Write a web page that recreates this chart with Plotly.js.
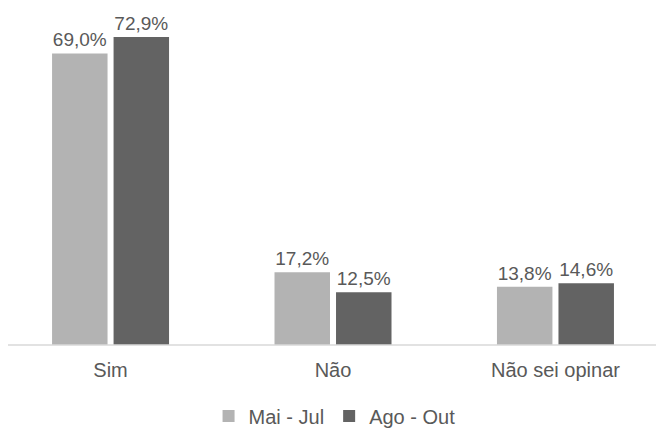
<!DOCTYPE html>
<html>
<head>
<meta charset="utf-8">
<script src="https://cdn.plot.ly/plotly-3.0.1.min.js"></script>
<style>html,body{margin:0;padding:0;background:#fff}#chart{width:656px;height:428px}</style>
</head>
<body>
<div id="chart"></div>
<script>
const categories = ["Sim", "Não", "Não sei opinar"];
const seriesNames = ["Mai - Jul", "Ago - Out"];
const maiJul = [69.0, 17.2, 13.8];
const agoOut = [72.9, 12.5, 14.6];
const colors = ["#b3b3b3", "#636363"];

function fmt(v){ return v.toFixed(1).replace('.', ',') + '%'; }

const traces = [maiJul, agoOut].map((vals, i) => ({
  type: 'bar',
  name: seriesNames[i],
  x: categories,
  y: vals,
  marker: {color: colors[i]},
  text: vals.map(fmt),
  textposition: 'outside',
  cliponaxis: false,
  textfont: {family: 'Liberation Sans, Arial, sans-serif', size: 19, color: '#595959'},
  hoverinfo: 'none'
}));

const layout = {
  width: 656, height: 428,
  margin: {l: 0, r: 0, t: 7, b: 83, autoexpand: false},
  paper_bgcolor: '#ffffff', plot_bgcolor: '#ffffff',
  barmode: 'group',
  bargap: 0.447,
  bargroupgap: 0.098,
  font: {family: 'Liberation Sans, Arial, sans-serif', color: '#595959'},
  xaxis: {
    type: 'category',
    range: [-0.497, 2.452],
    automargin: false,
    showline: false, showgrid: false, zeroline: false,
    ticks: 'outside', ticklen: 7, tickcolor: 'rgba(0,0,0,0)',
    tickfont: {size: 20, color: '#595959'}
  },
  yaxis: {
    range: [0, 80], visible: false, showgrid: false, zeroline: false
  },
  shapes: [{
    type: 'line', xref: 'paper', yref: 'paper',
    x0: 8/656, x1: 1, y0: 0, y1: 0,
    line: {color: '#d9d9d9', width: 1.5}
  }],
  showlegend: true,
  legend: {
    orientation: 'h', x: 0.51, xanchor: 'center', y: -0.21, yanchor: 'middle',
    font: {size: 20, color: '#595959'},
    itemwidth: 30, tracegroupgap: 0
  }
};

Plotly.newPlot('chart', traces, layout, {displayModeBar: false, staticPlot: true});
</script>
</body>
</html>
